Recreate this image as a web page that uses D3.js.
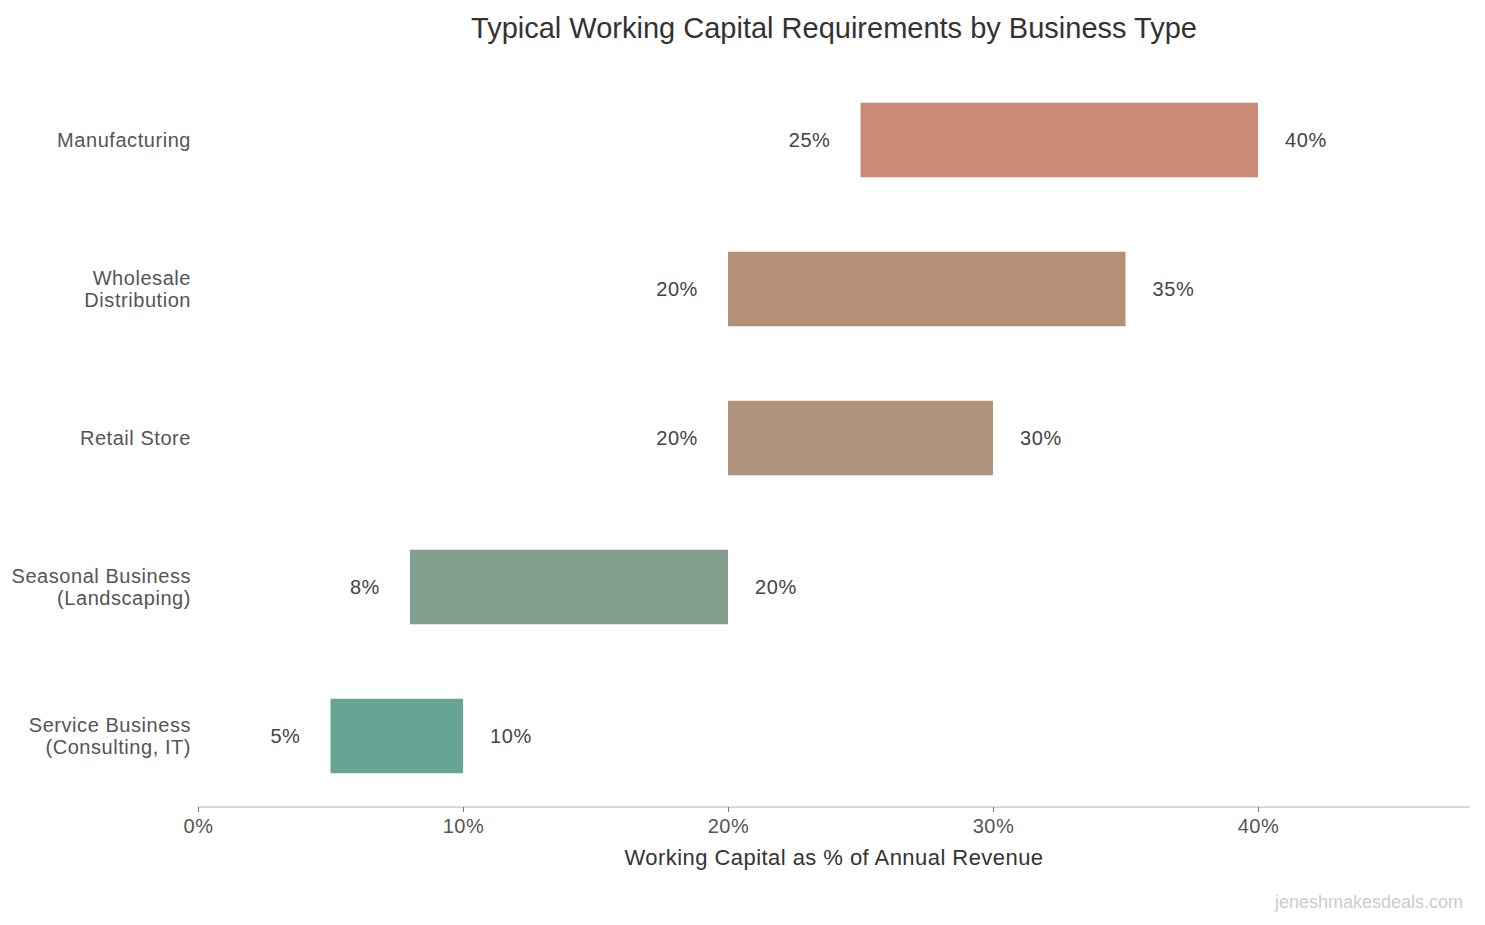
<!DOCTYPE html>
<html><head><meta charset="utf-8">
<script src="https://cdn.jsdelivr.net/npm/d3@7/dist/d3.min.js"></script>
<style>body{margin:0;background:#fff;} svg{display:block;font-family:"Liberation Sans",Arial,Helvetica,sans-serif;}</style>
</head><body><svg id="c" width="1485" height="925"></svg>
<script>
const categories = ["Manufacturing", "Wholesale\nDistribution", "Retail Store", "Seasonal Business\n(Landscaping)", "Service Business\n(Consulting, IT)"];
const lowValues = [25, 20, 20, 8, 5];
const highValues = [40, 35, 30, 20, 10];
const barColors = ["#cb8a75", "#b59079", "#ae927b", "#839e8d", "#66a593"];
const tickValues = [0, 10, 20, 30, 40];

const svg = d3.select("#c");
const x = d3.scaleLinear().domain([0, 48]).range([198, 1470]);
const y = d3.scaleBand().domain(categories).range([65.5, 810.5]).paddingInner(0.5).paddingOuter(0.25);

const data = categories.map((c, i) => ({c, lo: lowValues[i], hi: highValues[i], color: barColors[i]}));

// Title
svg.append("text").attr("x", 834).attr("y", 38).attr("text-anchor", "middle")
  .attr("font-size", 29).attr("fill", "#333").text("Typical Working Capital Requirements by Business Type");

// Bars
svg.selectAll("rect.bar").data(data).join("rect").attr("class", "bar")
  .attr("x", d => x(d.lo)).attr("width", d => x(d.hi) - x(d.lo))
  .attr("y", d => y(d.c)).attr("height", y.bandwidth()).attr("fill", d => d.color);

// Value labels
svg.selectAll("text.lo").data(data).join("text").attr("class", "lo")
  .attr("x", d => x(d.lo) - 30).attr("y", d => y(d.c) + y.bandwidth() / 2).attr("dy", "0.35em")
  .attr("text-anchor", "end").attr("font-size", 20).attr("letter-spacing", 0.6).attr("fill", "#444").text(d => d.lo + "%");
svg.selectAll("text.hi").data(data).join("text").attr("class", "hi")
  .attr("x", d => x(d.hi) + 27).attr("y", d => y(d.c) + y.bandwidth() / 2).attr("dy", "0.35em")
  .attr("text-anchor", "start").attr("font-size", 20).attr("letter-spacing", 0.6).attr("fill", "#444").text(d => d.hi + "%");

// Category labels
const cat = svg.selectAll("text.cat").data(data).join("text").attr("class", "cat")
  .attr("text-anchor", "end").attr("font-size", 20).attr("letter-spacing", 0.55).attr("fill", "#555");
cat.each(function(d) {
  const lines = d.c.split("\n");
  const cy = y(d.c) + y.bandwidth() / 2;
  const lh = 22;
  d3.select(this).selectAll("tspan").data(lines).join("tspan")
    .attr("x", 191)
    .attr("y", (l, i) => cy + (i - (lines.length - 1) / 2) * lh)
    .attr("dy", "0.35em").text(l => l);
});

// X axis
const axis = svg.append("g").attr("transform", "translate(0,807)")
  .call(d3.axisBottom(x).tickValues(tickValues).tickFormat(d => d + "%").tickSize(5).tickPadding(7));
axis.select(".domain").attr("stroke", "#ccc").attr("stroke-width", 1.5).attr("d", `M${x(0)},0H${x(48)}`);
axis.selectAll(".tick line").attr("stroke", "#777");
axis.selectAll(".tick text").attr("font-size", 20).attr("letter-spacing", 0.5).attr("fill", "#555").attr("font-family", "Liberation Sans, Arial, sans-serif");

svg.append("text").attr("x", 834).attr("y", 865).attr("text-anchor", "middle")
  .attr("font-size", 22).attr("letter-spacing", 0.45).attr("fill", "#333").text("Working Capital as % of Annual Revenue");

svg.append("text").attr("x", 1463).attr("y", 908).attr("text-anchor", "end")
  .attr("font-size", 18).attr("fill", "#ccc").text("jeneshmakesdeals.com");
</script></body></html>
